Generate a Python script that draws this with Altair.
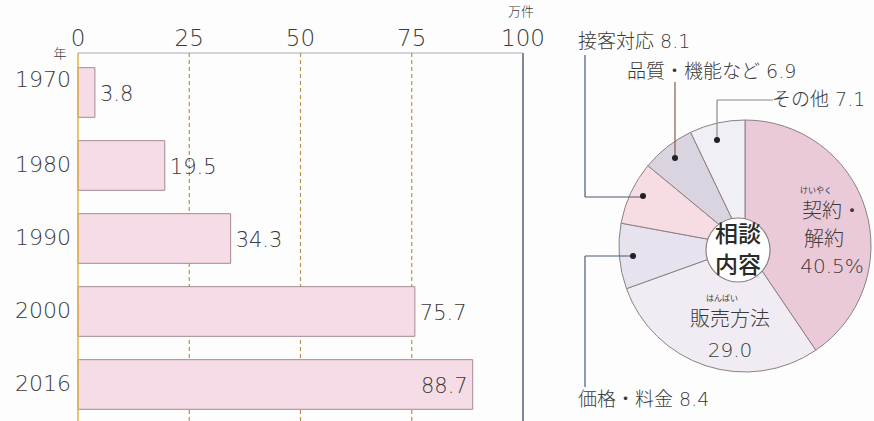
import altair as alt
import pandas as pd

# ---- data ----
years = ["1970", "1980", "1990", "2000", "2016"]
counts = [3.8, 19.5, 34.3, 75.7, 88.7]
ticks = [0, 25, 50, 75, 100]
grid_ticks = [25, 50, 75]

categories = ["契約・解約", "販売方法", "価格・料金", "接客対応", "品質・機能など", "その他"]
shares = [40.5, 29.0, 8.4, 8.1, 6.9, 7.1]

# ---- styles ----
FONT = "'DejaVu Sans', 'Noto Sans CJK JP'"
JFONT = "'Noto Sans CJK JP'"
TXT = "#3a3a3a"
slice_colors = ["#eac9d9", "#f1ecf4", "#e7e3ee", "#f8dce4", "#d9d4e0", "#f1eff6"]

bar_df = pd.DataFrame({"year": years, "count": counts})
tick_df = pd.DataFrame({"t": ticks})
grid_df = pd.DataFrame({"t": grid_ticks})
pie_df = pd.DataFrame({"cat": categories, "share": shares, "order": list(range(len(categories)))})

xs = alt.Scale(domain=[0, 100], range=[78, 523])
ys = alt.Scale(domain=years, range=[56, 421], paddingInner=0.32, paddingOuter=0.16)

# frame lines of bar panel
grid = alt.Chart(grid_df).mark_rule(color="#b8904f", strokeDash=[4, 3], strokeWidth=1.2).encode(
    x=alt.X("t:Q", scale=xs, axis=None), y=alt.value(53), y2=alt.value(421))
right_line = alt.Chart(pd.DataFrame({"t": [100]})).mark_rule(color="#55607a", strokeWidth=1.5).encode(
    x=alt.X("t:Q", scale=xs, axis=None), y=alt.value(53), y2=alt.value(421))
top_line = alt.Chart(pd.DataFrame({"a": [0], "b": [100]})).mark_rule(color="#a8acb8", strokeWidth=1.2).encode(
    x=alt.X("a:Q", scale=xs, axis=None), x2="b:Q", y=alt.value(53))

bars = alt.Chart(bar_df).mark_bar(fill="#f6dce6", stroke="#a48a95", strokeWidth=1).encode(
    x=alt.X("count:Q", scale=xs, axis=None),
    y=alt.Y("year:N", scale=ys, axis=None, sort=years))

left_line = alt.Chart(pd.DataFrame({"t": [0]})).mark_rule(color="#e0b040", strokeWidth=1.5).encode(
    x=alt.X("t:Q", scale=xs, axis=None), y=alt.value(53), y2=alt.value(421))

val_out = alt.Chart(bar_df).transform_filter(alt.datum.year != "2016").mark_text(
    align="left", baseline="middle", dx=5, dy=2, font=FONT, fontSize=21, fontWeight=300, color=TXT).encode(
    x=alt.X("count:Q", scale=xs, axis=None), y=alt.Y("year:N", scale=ys, axis=None, sort=years),
    text=alt.Text("count:Q", format=".1f"))
val_in = alt.Chart(bar_df).transform_filter(alt.datum.year == "2016").mark_text(
    align="right", baseline="middle", dx=-5, dy=2, font=FONT, fontSize=21, fontWeight=300, color=TXT).encode(
    x=alt.X("count:Q", scale=xs, axis=None), y=alt.Y("year:N", scale=ys, axis=None, sort=years),
    text=alt.Text("count:Q", format=".1f"))

year_lbl = alt.Chart(bar_df).transform_filter(alt.datum.year != "1970").mark_text(
    align="right", baseline="middle", dy=-1, font=FONT, fontSize=22, fontWeight=300, color=TXT).encode(
    x=alt.value(71), y=alt.Y("year:N", scale=ys, axis=None, sort=years), text="year:N")
year_lbl_first = alt.Chart(bar_df).transform_filter(alt.datum.year == "1970").mark_text(
    align="right", baseline="middle", dy=-13, font=FONT, fontSize=22, fontWeight=300, color=TXT).encode(
    x=alt.value(71), y=alt.Y("year:N", scale=ys, axis=None, sort=years), text="year:N")

tick_lbl = alt.Chart(tick_df).mark_text(
    align="center", baseline="middle", font=FONT, fontSize=23, fontWeight=300, color=TXT).encode(
    x=alt.X("t:Q", scale=xs, axis=None), y=alt.value(39), text="t:Q")

units = alt.Chart(pd.DataFrame({"x": [521, 60], "y": [12, 54], "s": ["万件", "年"]})).mark_text(
    align="center", baseline="middle", font=JFONT, fontSize=13, fontWeight=300, color=TXT).encode(
    x=alt.X("x:Q", scale=None), y=alt.Y("y:Q", scale=None), text="s:N")

# ---- pie ----
pie = alt.Chart(pie_df).mark_arc(outerRadius=126, stroke="#8c8080", strokeWidth=1).encode(
    theta=alt.Theta("share:Q", stack=True),
    order=alt.Order("order:Q"),
    color=alt.Color("cat:N", scale=alt.Scale(domain=categories, range=slice_colors), legend=None),
    x=alt.value(745), y=alt.value(246))

center = alt.Chart(pd.DataFrame({"x": [738], "y": [250]})).mark_circle(
    size=4100, fill="white", stroke="#8c8080", strokeWidth=1.2, opacity=1).encode(
    x=alt.X("x:Q", scale=None), y=alt.Y("y:Q", scale=None))

center_txt = alt.Chart(pd.DataFrame({"x": [738, 738], "y": [235, 266], "s": ["相談", "内容"]})).mark_text(
    align="center", baseline="middle", font=JFONT, fontSize=23, fontWeight=500, color="#2a2a2a").encode(
    x=alt.X("x:Q", scale=None), y=alt.Y("y:Q", scale=None), text="s:N")

# leader lines (pixel annotations)
leaders = pd.DataFrame({
    "x": [585, 585, 675, 717, 717, 585, 585],
    "x2": [585, 643, 675, 773, 717, 585, 633],
    "y": [55, 197, 82, 100, 100, 387, 256],
    "y2": [197, 197, 158, 100, 140, 256, 256],
    "c": ["#4a5878", "#4a5878", "#8a5a48", "#8a8a8a", "#8a8a8a", "#4a5878", "#4a5878"],
})
lead = alt.Chart(leaders).mark_rule(strokeWidth=1.2).encode(
    x=alt.X("x:Q", scale=None), x2="x2:Q", y=alt.Y("y:Q", scale=None), y2="y2:Q",
    color=alt.Color("c:N", scale=None))

dots = alt.Chart(pd.DataFrame({"x": [643, 675, 717, 633], "y": [196, 158, 140, 256]})).mark_circle(
    size=36, color="#222222", opacity=1).encode(
    x=alt.X("x:Q", scale=None), y=alt.Y("y:Q", scale=None))

pie_lbl_pos = pd.DataFrame({
    "x": [578, 627, 772, 578],
    "y": [42, 72, 100, 400],
    "s": [f"{categories[3]} {shares[3]}", "品質・機能など " + str(shares[4]),
          f"{categories[5]} {shares[5]}", "価格・料金 " + str(shares[2])],
})
pie_lbl = alt.Chart(pie_lbl_pos).mark_text(
    align="left", baseline="middle", font=FONT, fontSize=19, fontWeight=300, color=TXT).encode(
    x=alt.X("x:Q", scale=None), y=alt.Y("y:Q", scale=None), text="s:N")

in_lbl = alt.Chart(pd.DataFrame({
    "x": [832, 824, 832, 730, 730],
    "y": [212, 240, 267, 320, 351],
    "s": ["契約・", "解約", f"{shares[0]}%", categories[1], f"{shares[1]:.1f}"],
})).mark_text(align="center", baseline="middle", font=FONT, fontSize=20, fontWeight=300, color=TXT).encode(
    x=alt.X("x:Q", scale=None), y=alt.Y("y:Q", scale=None), text="s:N")

furi = alt.Chart(pd.DataFrame({"x": [816, 722], "y": [191, 299], "s": ["けいやく", "はんばい"]})).mark_text(
    align="center", baseline="middle", font=JFONT, fontSize=8, color=TXT).encode(
    x=alt.X("x:Q", scale=None), y=alt.Y("y:Q", scale=None), text="s:N")

chart = alt.layer(
    grid, right_line, top_line, bars, left_line, val_out, val_in, year_lbl, year_lbl_first,
    tick_lbl, units, pie, center, center_txt, lead, dots, pie_lbl, in_lbl, furi
).resolve_scale(
    x="independent", y="independent", color="independent", theta="independent"
).properties(
    width=874, height=421, padding=0, autosize=alt.AutoSizeParams(type="none"),
    background="#fdfdfd"
).configure_view(stroke=None)

chart.save("out.html", embed_options={"renderer": "svg", "actions": False})
